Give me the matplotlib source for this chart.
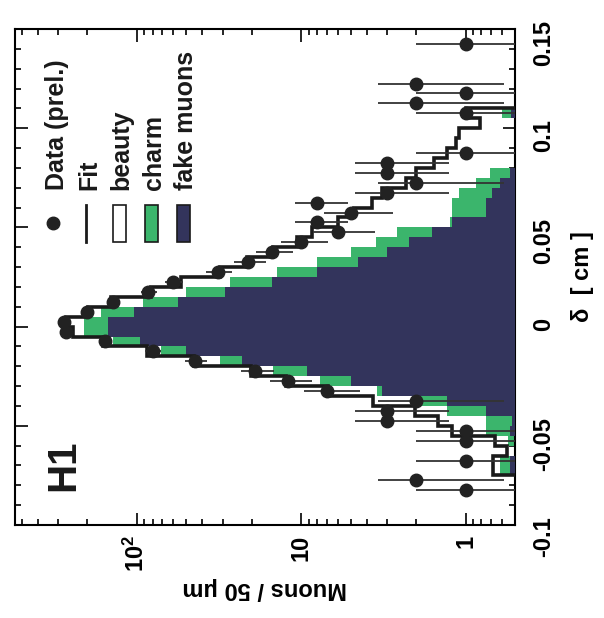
import numpy as np
import matplotlib
matplotlib.use("Agg")
import matplotlib.pyplot as plt
from matplotlib.ticker import FixedLocator, FixedFormatter, LogLocator, NullFormatter, MultipleLocator
from matplotlib.patches import Rectangle
from matplotlib.lines import Line2D

plt.rcParams['font.family'] = ['Liberation Sans', 'DejaVu Sans']
plt.rcParams['font.weight'] = 'bold'
plt.rcParams['mathtext.fontset'] = 'custom'
plt.rcParams['mathtext.rm'] = 'Liberation Sans:bold'
plt.rcParams['mathtext.bf'] = 'Liberation Sans:bold'
plt.rcParams['mathtext.it'] = 'Liberation Sans:bold'

# ---------------- data (bin width 0.005 cm = 50 um) ----------------
bin_edges = np.round(np.arange(-0.100, 0.1501, 0.005), 4)

# negative side, listed from the bin just below 0 outward (-0.005..0, -0.01..-0.005, ...)
fit_neg   = [245, 161, 86, 45, 20.3, 12.3, 6.9, 3.66, 2.04, 1.48, 1.2, 0.66, 0.56, 0.68, 0.68, 0.42, 0.4, 0.4, 0.4, 0.4]
charm_neg = [210, 140, 71, 31, 14.8, 7.7, 3.46, 1.9, 1.3, 0.75, 0.75, 0.55, 0.5, 0.62, 0.62, 0.4, 0.4, 0.4, 0.4, 0.4]
fake_neg  = [150, 95, 50, 23, 9.2, 5.0, 3.2, 1.3, 0.75, 0.52, 0.54, 0.45, 0.45, 0.54, 0.54, 0.4, 0.4, 0.4, 0.4, 0.4]
data_neg  = [270, 155, 80, 44, 19, 12, 7, 2, 3, 3, 1, 1, 0, 1, 0, 2, 1, 0, 0, 0]

# positive side, from 0..0.005 outward
fit_pos   = [270, 199, 144, 82, 54, 31, 21.3, 14.8, 10.6, 8.6, 6.0, 4.8, 3.7, 3.2, 2.3, 2.0, 1.55, 1.3,
             1.15, 1.09, 0.82, 1.0, 0.45, 0.4, 0.4, 0.4, 0.4, 0.4, 0.4, 0.4]
charm_pos = [210, 166, 92, 50, 27, 14, 8.0, 5.0, 3.5, 2.6, 1.25, 1.2, 1.2, 1.1, 0.86, 0.71, 0.45, 0.42,
             0.42, 0.42, 0.42, 0.6, 0.4, 0.4, 0.4, 0.4, 0.4, 0.4, 0.4, 0.4]
fake_pos  = [150, 104, 56, 29, 15, 8.0, 4.5, 3.0, 2.2, 1.6, 1.2, 0.75, 0.75, 0.69, 0.62, 0.54, 0.4, 0.4,
             0.4, 0.4, 0.4, 0.53, 0.4, 0.4, 0.4, 0.4, 0.4, 0.4, 0.4, 0.4]
data_pos  = [275, 200, 140, 85, 60, 32, 21, 15, 10, 6, 8, 5, 8, 3, 2, 3, 3, 1, 0, 0, 0, 1, 2, 1, 2,
             0, 0, 0, 1, 0]

count_ticks = [1, 10, 100]
count_labels = ['1', '10', '$10^{2}$']
delta_ticks = [-0.1, -0.05, 0, 0.05, 0.1, 0.15]
delta_labels = ['-0.1', '-0.05', '0', '0.05', '0.1', '0.15']

legend_labels = ['Data (prel.)', 'Fit', 'beauty', 'charm', 'fake muons']

# ---------------- assemble ----------------
fit = np.array(fit_neg[::-1] + fit_pos)
charm = np.array(charm_neg[::-1] + charm_pos)
fake = np.array(fake_neg[::-1] + fake_pos)
data = np.array(data_neg[::-1] + data_pos, dtype=float)
centers = 0.5 * (bin_edges[:-1] + bin_edges[1:])

NAVY = '#33345c'
GREEN = '#3bb56c'

W, H = 604, 618
fig = plt.figure(figsize=(W / 100, H / 100), dpi=100)
L, R, T, B = 15, 515, 29, 525
ax = fig.add_axes([L / W, 1 - B / H, (R - L) / W, (B - T) / H])

base = 0.05
ax.stairs(fit, bin_edges, orientation='horizontal', baseline=base, fill=True, color='white', zorder=1)
ax.stairs(charm, bin_edges, orientation='horizontal', baseline=base, fill=True, color=GREEN, zorder=2)
ax.stairs(fake, bin_edges, orientation='horizontal', baseline=base, fill=True, color=NAVY, zorder=3)
ax.stairs(fit, bin_edges, orientation='horizontal', baseline=None, color='#1a1a1a', lw=2.6, zorder=4)

m = data > 0
d = data[m]
err = np.sqrt(d)
err_lo = np.minimum(err, d - 1e-3)
ax.errorbar(d, centers[m], xerr=[err_lo, err], fmt='o', color='#222222', ecolor='#333333',
            elinewidth=1.3, markersize=9, capsize=0, zorder=5)

ax.set_xscale('log')
ax.set_xlim(550, 0.5)
ax.set_ylim(-0.1, 0.15)

ax.xaxis.set_major_locator(FixedLocator(count_ticks))
ax.xaxis.set_major_formatter(FixedFormatter(count_labels))
ax.xaxis.set_minor_locator(LogLocator(base=10, subs=np.arange(2, 10)))
ax.xaxis.set_minor_formatter(NullFormatter())

ax.yaxis.tick_right()
ax.yaxis.set_label_position('right')
ax.yaxis.set_major_locator(FixedLocator(delta_ticks))
ax.yaxis.set_major_formatter(FixedFormatter(delta_labels))
ax.yaxis.set_minor_locator(MultipleLocator(0.01))

ax.tick_params(which='both', direction='in', top=True, bottom=True, left=True, right=True,
               labelleft=False, labelright=True, labelbottom=True, labeltop=False, width=1.2)
ax.tick_params(which='major', length=9)
ax.tick_params(which='minor', length=4.5)
ax.tick_params(axis='x', labelsize=17, labelrotation=90, pad=7)
ax.tick_params(axis='y', labelsize=17, labelrotation=90, pad=12)
for lab in ax.get_yticklabels():
    lab.set_fontweight('bold')
for lab in ax.get_xticklabels():
    lab.set_fontweight('bold')

for s in ax.spines.values():
    s.set_linewidth(1.5)

ax.set_xlabel('Muons / 50 μm', fontsize=17, fontweight='bold', rotation=180, labelpad=4)
ax.set_ylabel('δ  [ cm ]', fontsize=17, fontweight='bold', labelpad=12)

# ---------------- legend (rotated, drawn manually) ----------------
def fx(px):
    return (px - L) / (R - L)

def fy(py):
    return (B - py) / (B - T)

base_x = [64, 96, 128, 161, 193]
for bx, txt in zip(base_x, legend_labels):
    ax.text(fx(bx), fy(190), txt, transform=ax.transAxes, rotation=90, rotation_mode='anchor',
            ha='left', va='baseline', fontsize=18, fontweight='bold', color='#1a1a1a', zorder=6)

ax.add_line(Line2D([fx(53)], [fy(223)], marker='o', markersize=9, color='#222222',
                   transform=ax.transAxes, zorder=6))
ax.add_line(Line2D([fx(86), fx(86)], [fy(205), fy(242)], color='#1a1a1a', lw=2,
                   transform=ax.transAxes, zorder=6))
for x0, fc in zip([113, 145, 177], ['white', GREEN, NAVY]):
    ax.add_patch(Rectangle((fx(x0), fy(242)), fx(x0 + 13) - fx(x0), fy(205) - fy(242),
                           transform=ax.transAxes, facecolor=fc, edgecolor='#1a1a1a', lw=1.2, zorder=6))

ax.text(fx(63), fy(465), 'H1', transform=ax.transAxes, rotation=90, ha='center', va='center',
        fontsize=29, fontweight='bold', color='#1a1a1a', zorder=6)

fig.savefig('out.png', dpi=100)
